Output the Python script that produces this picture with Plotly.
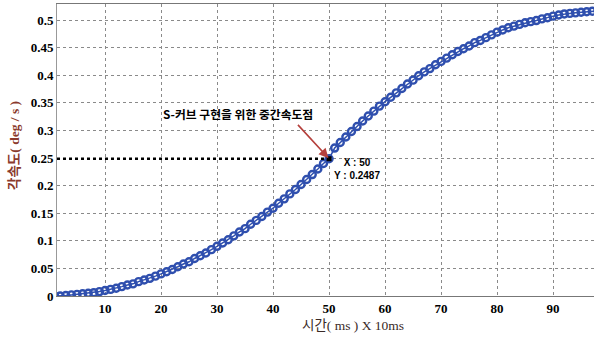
import plotly.graph_objects as go

# time index (x 10 ms)
time_idx = list(range(1, 101))
# angular velocity (deg/s)
ang_vel = [
    0.000, 0.000, 0.001, 0.002, 0.003, 0.004, 0.005, 0.006, 0.008, 0.010,
    0.012, 0.014, 0.017, 0.020, 0.022, 0.026, 0.029, 0.032, 0.036, 0.040,
    0.044, 0.048, 0.053, 0.058, 0.062, 0.068, 0.073, 0.078, 0.084, 0.090,
    0.096, 0.102, 0.109, 0.116, 0.122, 0.130, 0.137, 0.144, 0.152, 0.159,
    0.168, 0.176, 0.185, 0.193, 0.202, 0.211, 0.220, 0.230, 0.240, 0.2487,
    0.268, 0.278, 0.288, 0.298, 0.307, 0.317, 0.326, 0.335, 0.344, 0.352,
    0.360, 0.368, 0.376, 0.384, 0.391, 0.399, 0.406, 0.412, 0.419, 0.425,
    0.431, 0.437, 0.443, 0.448, 0.453, 0.459, 0.463, 0.468, 0.473, 0.478,
    0.482, 0.486, 0.489, 0.492, 0.495, 0.497, 0.499, 0.502, 0.504, 0.507,
    0.509, 0.511, 0.512, 0.513, 0.514, 0.515, 0.516, 0.517, 0.517, 0.517,
]
x_ticks = [10, 20, 30, 40, 50, 60, 70, 80, 90]
y_ticks = [0, 0.05, 0.1, 0.15, 0.2, 0.25, 0.3, 0.35, 0.4, 0.45, 0.5]
y_tick_text = ["0", "0.05", "0.1", "0.15", "0.2", "0.25", "0.3", "0.35", "0.4", "0.45", "0.5"]
tip_x = 50
tip_y = 0.2487
x_range = [1.43, 97.3]
y_range = [0, 0.529]

blue = "#2f4fae"
fig = go.Figure()
fig.add_trace(go.Scatter(
    x=time_idx, y=ang_vel, mode="lines+markers",
    line=dict(color=blue, width=1.5),
    marker=dict(symbol="circle-open", size=7, color=blue, line=dict(width=2.4, color=blue)),
    cliponaxis=True, showlegend=False, hoverinfo="x+y",
))
fig.add_trace(go.Scatter(
    x=[tip_x], y=[tip_y], mode="markers",
    marker=dict(symbol="square", size=5, color="black"),
    showlegend=False,
))
fig.add_shape(type="line", xref="x", yref="y", x0=x_range[0], x1=tip_x, y0=tip_y, y1=tip_y,
              line=dict(color="black", width=2.5, dash="dot"), layer="above")

fig.add_annotation(x=tip_x - 0.1, y=tip_y + 0.001, ax=44.2, ay=0.3128, axref="x", ayref="y",
                   xref="x", yref="y", showarrow=True, arrowhead=2, arrowsize=1.2,
                   arrowwidth=1.6, arrowcolor="#b5403c", text="")
fig.add_annotation(x=33.75, y=0.3315, xref="x", yref="y", showarrow=False,
                   text="<b>S-커브 구현을 위한 중간속도점</b>",
                   font=dict(family="Noto Sans CJK KR", size=11.8, color="black"))
fig.add_annotation(x=55.0, y=0.230, xref="x", yref="y", showarrow=False,
                   text="<b>X : 50<br>Y : 0.2487</b>", align="center",
                   font=dict(family="Liberation Sans", size=10, color="black"))
fig.add_annotation(x=353, y=325, xref="paper", yref="paper", showarrow=False,
                   xanchor="center", yanchor="middle",
                   text="시간( ms ) X 10ms",
                   font=dict(family="Liberation Serif, Noto Sans CJK KR", size=13.5, color="#3a2a26"))
fig.add_annotation(x=15, y=146, xref="paper", yref="paper", showarrow=False,
                   xanchor="center", yanchor="middle",
                   text="<b>각속도( deg / s )</b>", textangle=-90,
                   font=dict(family="Liberation Serif, Noto Sans CJK KR", size=13.5, color="#8a3a2c"))

# convert pixel-placed axis titles to paper coords
W, H = 594, 337
L, R, T, B = 57, 0, 4, 41
pw, ph = W - L - R, H - T - B
for ann in fig.layout.annotations:
    if ann.xref == "paper":
        ann.x = (ann.x - L) / pw
        ann.y = (H - B - ann.y) / ph

fig.update_layout(
    width=W, height=H, margin=dict(l=L, r=R, t=T, b=B),
    paper_bgcolor="white", plot_bgcolor="white",
    xaxis=dict(range=x_range, tickvals=x_ticks, ticktext=["<b>%d</b>" % t for t in x_ticks],
               showgrid=True, gridcolor="#8a8a8a",
               griddash="dot", gridwidth=1, zeroline=False, showline=True, linecolor="#777",
               mirror=True, ticks="", tickfont=dict(family="Liberation Serif", size=13, color="black")),
    yaxis=dict(range=y_range, tickvals=y_ticks, ticktext=["<b>%s</b>" % t for t in y_tick_text],
               showgrid=True, gridcolor="#8a8a8a", griddash="dot", gridwidth=1, zeroline=False,
               showline=True, linecolor="#999", mirror=True, ticks="",
               tickfont=dict(family="Liberation Serif", size=13, color="black")),
)
fig.write_html("out.html", config={"displayModeBar": False},
               post_script="document.body.style.margin='0';")
